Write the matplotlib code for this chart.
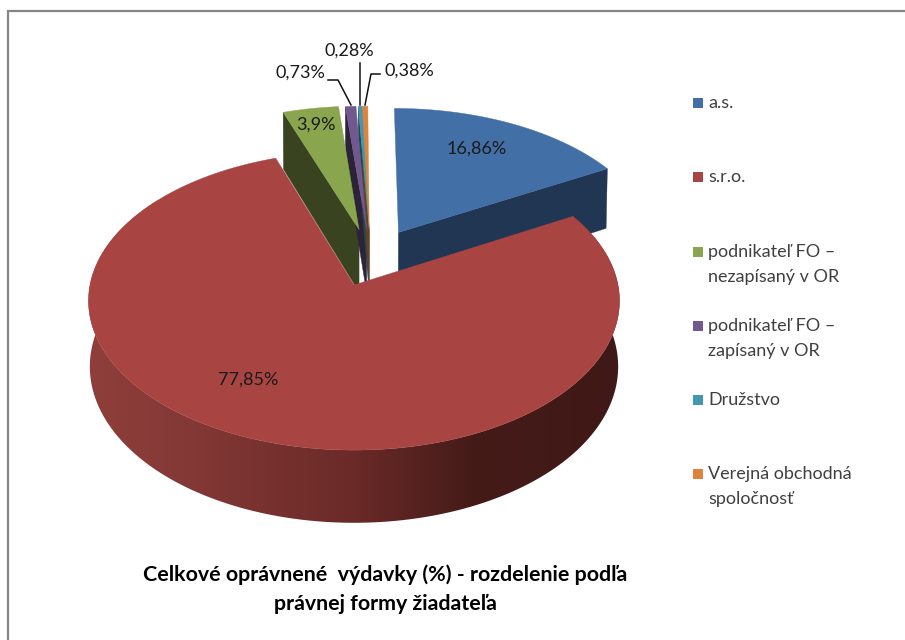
import matplotlib
matplotlib.use('Agg')
import matplotlib.pyplot as plt
from matplotlib.colors import LinearSegmentedColormap
from matplotlib.patches import Polygon
import numpy as np

plt.rcParams['font.family'] = ['Lato', 'DejaVu Sans']

# Data
categories = ['a.s.', 's.r.o.', 'podnikateľ FO –\nnezapísaný v OR',
              'podnikateľ FO –\nzapísaný v OR', 'Družstvo',
              'Verejná obchodná\nspoločnosť']
shares = [16.86, 77.85, 3.9, 0.73, 0.28, 0.38]
title = 'Celkové oprávnené  výdavky (%) - rozdelenie podľa\nprávnej formy žiadateľa'

# Slice styling
top_colors = ['#426fa6', '#a84442', '#89a54e', '#71588f', '#4198af', '#db843d']
side_colors = ['#203653', '#6a2a28', '#3a431f', '#2c2339', '#1f4a56', '#6b401d']
explode_x = [0.175, 0, 0.02, 0.05, 0.06, 0.06]
explode_z = [0.37, 0, 0.39, 0.39, 0.39, 0.39]

# Projection of the pie plane to pixels
CX, CY = 354, 285
A, B = 264, 147.6
K = 0.106
DEPTH = 65


def project(X, Z, drop=0):
    s = 1 / (1 + K * Z)
    x = CX + A * X * s * (1 - 0.005 * drop)
    y = CY - B * Z * s + DEPTH * s * drop
    return np.column_stack((x, y))


def arc(start, end, ox=0, oz=0, drop=0):
    phi = np.radians(np.linspace(start, end, 200))
    return project(ox + np.sin(phi), oz + np.cos(phi), drop)


fig = plt.figure(figsize=(9.05, 6.4), dpi=100)
ax = fig.add_axes([0, 0, 1, 1])

edges = np.concatenate(([0], np.cumsum(shares))) * 3.6

# back slices first: cut walls, then the tops
wall_order = [2, 3, 4, 5, 0]
for i in wall_order:
    # blue shows the wall on its end side, the rest on the start side
    phi = np.radians(edges[i + 1] if i == 0 else edges[i])
    ox, oz = explode_x[i], explode_z[i]
    X = np.array([ox, ox + np.sin(phi)])
    Z = np.array([oz, oz + np.cos(phi)])
    pts = np.vstack((project(X, Z), project(X, Z, 1)[::-1]))
    ax.add_patch(Polygon(pts, closed=True, fc=side_colors[i], ec=side_colors[i], lw=0.3))

for i in wall_order:
    ox, oz = explode_x[i], explode_z[i]
    pts = np.vstack((project(np.array([ox]), np.array([oz])),
                     arc(edges[i], edges[i + 1], ox, oz)))
    ax.add_patch(Polygon(pts, closed=True, fc=top_colors[i], ec=top_colors[i], lw=0.3))

# big slice: outer wall with a left to right shade, then its top
wall_pts = np.vstack((arc(edges[1], edges[2]), arc(edges[1], edges[2], drop=1)[::-1]))
wall = Polygon(wall_pts, closed=True, fc='none', ec='none')
ax.add_patch(wall)
shade = LinearSegmentedColormap.from_list(
    'wall', [(0, '#8f3e3b'), (0.16, '#863a37'), (0.5, '#6a2a28'), (0.72, '#451b18'), (1, '#3f1917')])
img = ax.imshow(np.linspace(0, 1, 256)[None, :], cmap=shade, aspect='auto',
                extent=(85, 622, 530, 200), zorder=1)
img.set_clip_path(wall)

top_pts = np.vstack(([[CX, CY]], arc(edges[1], edges[2])))
ax.add_patch(Polygon(top_pts, closed=True, fc=top_colors[1], ec=top_colors[1], lw=0.3, zorder=2))

# Data labels
label_text = [f'{v:g}'.replace('.', ',') + '%' for v in shares]
label_pos = [(477, 149), (248, 380), (316, 125), (300, 73), (349, 51), (409, 71)]
for txt, (x, y) in zip(label_text, label_pos):
    ax.text(x, y, txt, fontsize=13, color='#1a1a1a', ha='center', va='center', zorder=5)

# Leader lines
ax.plot([328, 338, 351], [80, 80, 105], color='#111111', lw=1.1, zorder=4)
ax.plot([360, 360], [63, 105], color='#111111', lw=1.1, zorder=4)
ax.plot([380, 371, 365], [74, 74, 105], color='#111111', lw=1.1, zorder=4)

# Legend
legend_y = [103, 177, 252, 326, 400, 474]
for name, color, y in zip(categories, top_colors, legend_y):
    ax.scatter([698], [y], marker='s', s=62, color=color, linewidths=0, zorder=5)
    ax.text(708, y - 8, name, fontsize=13, color='#404040', ha='left', va='top', linespacing=1.66)

ax.text(385, 589, title, fontsize=15.4, fontweight='bold', color='black',
        ha='center', va='center', linespacing=1.55)

# Frame: only top and left
ax.plot([8, 8, 905], [640, 11, 11], color='#868686', lw=1.6, solid_joinstyle='miter', zorder=6)

ax.set_xlim(0, 905)
ax.set_ylim(640, 0)
ax.axis('off')

fig.savefig('out.png', dpi=100)
